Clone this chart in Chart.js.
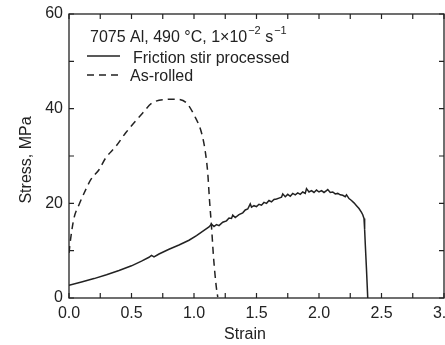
<!DOCTYPE html>
<html>
<head>
<meta charset="utf-8">
<script src="https://cdn.jsdelivr.net/npm/chart.js@4/dist/chart.umd.min.js"></script>
<style>
  html, body { margin: 0; padding: 0; background: #fff; }
  #wrap { width: 445px; height: 345px; }
</style>
</head>
<body>
<div id="wrap"><canvas id="myChart" width="445" height="345"></canvas></div>
<script>
// friction stir processed (solid)
const strainFsp = [0.0, 0.1, 0.2, 0.3, 0.4, 0.5, 0.58, 0.64, 0.66, 0.68, 0.72, 0.8, 0.88, 0.96, 1.02, 1.08, 1.12, 1.14, 1.16, 1.18, 1.2, 1.23, 1.26, 1.28, 1.3, 1.31, 1.33, 1.36, 1.39, 1.41, 1.43, 1.45, 1.46, 1.48, 1.50, 1.52, 1.54, 1.56, 1.58, 1.60, 1.62, 1.64, 1.66, 1.68, 1.70, 1.71, 1.73, 1.75, 1.77, 1.79, 1.81, 1.83, 1.85, 1.87, 1.89, 1.90, 1.92, 1.94, 1.96, 1.98, 2.00, 2.02, 2.04, 2.06, 2.07, 2.09, 2.11, 2.13, 2.15, 2.17, 2.19, 2.21, 2.22, 2.24, 2.26, 2.28, 2.30, 2.32, 2.34, 2.35, 2.36, 2.365, 2.37, 2.38, 2.39];
const stressFsp = [2.7, 3.4, 4.1, 4.9, 5.8, 6.8, 7.8, 8.6, 9.0, 8.7, 9.3, 10.3, 11.2, 12.2, 13.2, 14.3, 15.0, 15.6, 15.1, 15.5, 15.3, 16.0, 16.3, 16.9, 16.8, 17.5, 17.0, 17.6, 18.0, 18.6, 18.8, 19.9, 19.2, 19.5, 19.3, 19.8, 19.6, 20.2, 20.0, 20.6, 20.3, 20.8, 20.9, 21.1, 21.3, 22.0, 21.4, 21.9, 21.5, 22.1, 21.8, 22.2, 21.9, 22.4, 22.1, 23.1, 22.4, 22.7, 22.3, 22.8, 22.4, 22.7, 22.3, 22.7, 22.9, 22.3, 22.4, 22.0, 22.1, 21.8, 21.7, 21.4, 21.8, 21.0, 20.6, 20.1, 19.5, 18.9, 18.1, 17.6, 16.8, 14.5, 11.5, 6.0, 0];

// as-rolled (dashed)
const strainRolled = [0.0, 0.013, 0.04, 0.08, 0.134, 0.174, 0.24, 0.294, 0.374, 0.454, 0.59, 0.66, 0.75, 0.86, 0.94, 1.00, 1.06, 1.09, 1.11, 1.124, 1.14, 1.156, 1.178, 1.19];
const stressRolled = [9.5, 12.5, 16.9, 19.7, 22.9, 25.0, 27.1, 29.6, 32.0, 34.9, 39.1, 41.1, 41.9, 42.0, 41.2, 38.7, 34.9, 31.0, 26.4, 20.7, 15.1, 8.7, 2.4, 0.2];

const xTicks = [0.0, 0.5, 1.0, 1.5, 2.0, 2.5, 3.0];
const yTicks = [0, 20, 40, 60];
const seriesNames = ['Friction stir processed', 'As-rolled'];

const FONT = '"Liberation Sans", Arial, sans-serif';
const INK = '#222';

function toPoints(xs, ys) {
  return xs.map((x, i) => ({ x: x, y: ys[i] }));
}

// frame, inward ticks on all four sides, legend block, axis titles
const framePlugin = {
  id: 'frame',
  afterDraw(chart) {
    const ctx = chart.ctx;
    const a = chart.chartArea;
    const xs = chart.scales.x;
    const ys = chart.scales.y;
    ctx.save();
    ctx.strokeStyle = INK;
    ctx.lineWidth = 1.3;
    ctx.strokeRect(a.left, a.top, a.right - a.left, a.bottom - a.top);

    ctx.lineWidth = 1.2;
    for (let i = 0; i <= 12; i++) {
      const px = xs.getPixelForValue(i * 0.25);
      ctx.beginPath();
      ctx.moveTo(px, a.bottom); ctx.lineTo(px, a.bottom - 5);
      ctx.moveTo(px, a.top); ctx.lineTo(px, a.top + 5);
      ctx.stroke();
    }
    for (let v = 0; v <= 60; v += 10) {
      const py = ys.getPixelForValue(v);
      ctx.beginPath();
      ctx.moveTo(a.left, py); ctx.lineTo(a.left + 5, py);
      ctx.moveTo(a.right, py); ctx.lineTo(a.right - 5, py);
      ctx.stroke();
    }

    // legend
    ctx.fillStyle = INK;
    ctx.textBaseline = 'alphabetic';
    ctx.textAlign = 'left';
    ctx.font = '16px ' + FONT;
    let tx = 90;
    const main = '7075 Al, 490 \u00B0C, 1\u00D710';
    ctx.fillText(main, tx, 42);
    tx += ctx.measureText(main).width;
    ctx.font = '11px ' + FONT;
    ctx.fillText('\u22122', tx + 1, 34);
    tx += ctx.measureText('\u22122').width + 1;
    ctx.font = '16px ' + FONT;
    ctx.fillText(' s', tx, 42);
    tx += ctx.measureText(' s').width;
    ctx.font = '11px ' + FONT;
    ctx.fillText('\u22121', tx + 1, 34);

    const dsets = chart.data.datasets;
    const rows = [{ y: 56, ty: 63, tx: 133 }, { y: 75, ty: 81, tx: 130 }];
    dsets.forEach((ds, i) => {
      const r = rows[i];
      ctx.strokeStyle = ds.borderColor;
      ctx.lineWidth = ds.borderWidth;
      ctx.setLineDash(ds.borderDash || []);
      ctx.beginPath();
      ctx.moveTo(87, r.y); ctx.lineTo(120, r.y);
      ctx.stroke();
      ctx.setLineDash([]);
      ctx.font = '16px ' + FONT;
      ctx.fillText(ds.label, r.tx, r.ty);
    });

    // axis titles
    ctx.font = '16px ' + FONT;
    ctx.textAlign = 'center';
    ctx.textBaseline = 'middle';
    ctx.fillText('Strain', 245, 335);
    ctx.translate(27, 160);
    ctx.rotate(-Math.PI / 2);
    ctx.fillText('Stress, MPa', 0, 0);
    ctx.restore();
  }
};

const config = {
  type: 'scatter',
  data: {
    datasets: [
      {
        label: seriesNames[0],
        data: toPoints(strainFsp, stressFsp),
        showLine: true,
        borderColor: INK,
        borderWidth: 1.5,
        pointRadius: 0,
        tension: 0,
      },
      {
        label: seriesNames[1],
        data: toPoints(strainRolled, stressRolled),
        showLine: true,
        borderColor: INK,
        borderWidth: 1.5,
        borderDash: [7, 5],
        pointRadius: 0,
        cubicInterpolationMode: 'monotone',
      },
    ],
  },
  options: {
    responsive: false,
    animation: false,
    layout: { padding: { top: 14, right: 1, left: 0, bottom: 0 } },
    plugins: {
      legend: { display: false },
      tooltip: { enabled: false },
    },
    scales: {
      x: {
        type: 'linear',
        min: 0,
        max: 3,
        afterBuildTicks: (s) => { s.ticks = xTicks.map((v) => ({ value: v })); },
        afterFit: (s) => { s.height = 47; s.paddingLeft = 0; s.paddingRight = 0; },
        grid: { display: false, drawTicks: false },
        border: { display: false },
        ticks: {
          color: INK,
          padding: 6,
          maxRotation: 0,
          autoSkip: false,
          font: { family: FONT, size: 16 },
          callback: (v) => v.toFixed(1),
        },
      },
      y: {
        type: 'linear',
        min: 0,
        max: 60,
        afterBuildTicks: (s) => { s.ticks = yTicks.map((v) => ({ value: v })); },
        afterFit: (s) => { s.width = 69; s.paddingTop = 0; s.paddingBottom = 0; },
        grid: { display: false, drawTicks: false },
        border: { display: false },
        ticks: {
          color: INK,
          padding: 6,
          font: { family: FONT, size: 16 },
        },
      },
    },
  },
  plugins: [framePlugin],
};

const myChart = new Chart(document.getElementById('myChart'), config);
</script>
</body>
</html>
